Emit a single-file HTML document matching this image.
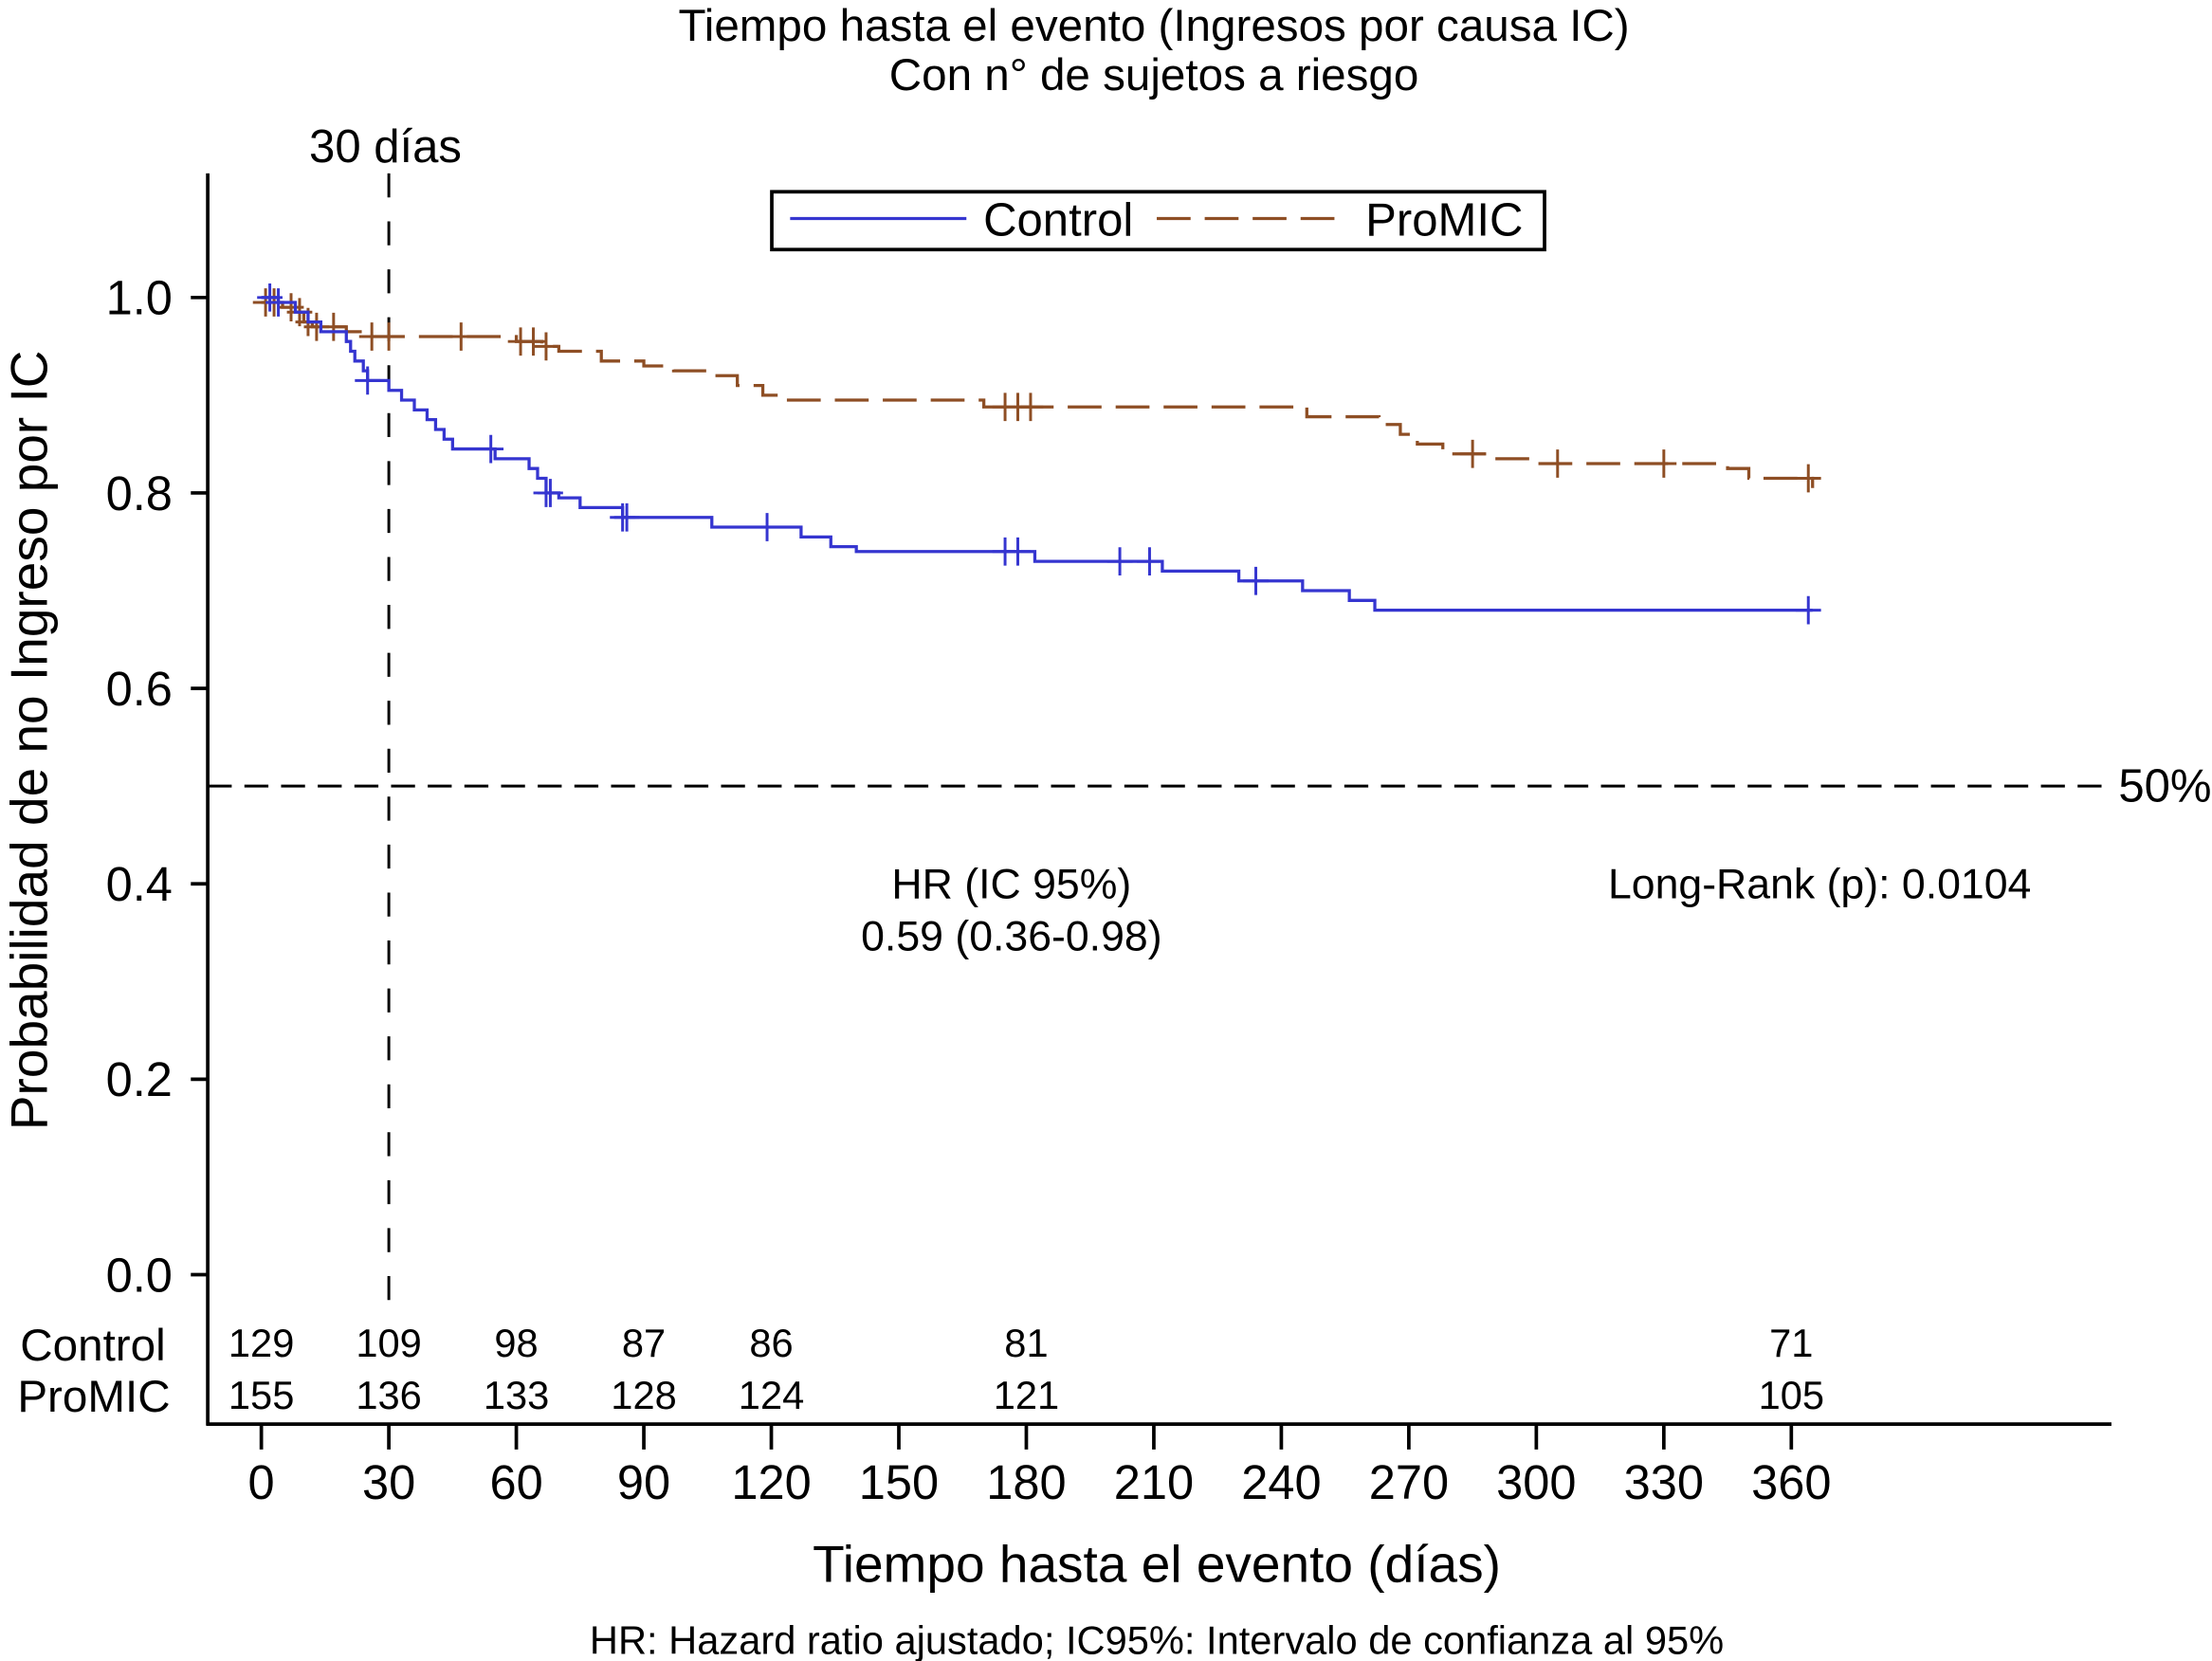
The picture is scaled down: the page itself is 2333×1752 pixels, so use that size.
<!DOCTYPE html>
<html><head><meta charset="utf-8"><style>
html,body{margin:0;padding:0;background:#fff;}
svg{display:block;}
text{font-family:"Liberation Sans",sans-serif;fill:#000;}
</style></head><body>
<svg id="chart" width="2333" height="1752" viewBox="0 0 1568 1178" xmlns="http://www.w3.org/2000/svg">
<text x="818" y="29" font-size="32" text-anchor="middle">Tiempo hasta el evento (Ingresos por causa IC)</text>
<text x="818" y="64" font-size="32" text-anchor="middle">Con n° de sujetos a riesgo</text>
<text x="273" y="115" font-size="33" text-anchor="middle">30 días</text>
<g id="axes"></g>
<g id="series"></g>
<g>
<rect x="547" y="136" width="548" height="41" fill="#fff" stroke="#000" stroke-width="2.5"/>
<line x1="560" y1="155" x2="685" y2="155" stroke="#3535d0" stroke-width="2.2"/>
<text x="697" y="167" font-size="33">Control</text>
<line x1="820" y1="155" x2="955" y2="155" stroke="#8e4e24" stroke-width="2.2" stroke-dasharray="24,10"/>
<text x="968" y="167" font-size="33">ProMIC</text>
</g>
<text x="717" y="637" font-size="30" text-anchor="middle">HR (IC 95%)</text>
<text x="717" y="674" font-size="30" text-anchor="middle">0.59 (0.36-0.98)</text>
<text x="1140" y="637" font-size="30">Long-Rank (p): 0.0104</text>
<text transform="translate(33,525) rotate(-90)" font-size="37" text-anchor="middle">Probabilidad de no Ingreso por IC</text>
<text x="820" y="1122" font-size="37" text-anchor="middle">Tiempo hasta el evento (días)</text>
<text x="820" y="1173" font-size="28" text-anchor="middle">HR: Hazard ratio ajustado; IC95%: Intervalo de confianza al 95%</text>
<text x="14" y="965" font-size="32">Control</text>
<text x="12" y="1001" font-size="32">ProMIC</text>
</svg>
<script>
const xTicks=[0,30,60,90,120,150,180,210,240,270,300,330,360];
const yTicks=[0,0.2,0.4,0.6,0.8,1.0];
const riskTimes=[0,30,60,90,120,180,360];
const riskControl=[129,109,98,87,86,81,71];
const riskProMIC=[155,136,133,128,124,121,105];
const ctrlT=[0,4,8,11,14,20,21,22,24,25,30,33,36,39,41,43,45,55,63,65,67,70,75,85,106,127,134,140,182,212,230,245,256,262,365];
const ctrlS=[1.0,0.995,0.985,0.975,0.965,0.955,0.945,0.935,0.925,0.915,0.905,0.895,0.885,0.875,0.865,0.855,0.845,0.835,0.825,0.815,0.80,0.795,0.785,0.775,0.765,0.755,0.745,0.74,0.73,0.72,0.71,0.70,0.69,0.68,0.68];
const ctrlCens=[2,4,25,54,67,68,85,86,119,175,178,202,209,234,364];
const proT=[0,5,8,10,12,20,26,48,60,66,70,80,90,97,105,112,118,122,170,246,263,268,272,278,290,300,345,350,365];
const proS=[0.995,0.99,0.985,0.975,0.97,0.965,0.96,0.96,0.955,0.95,0.945,0.935,0.93,0.925,0.92,0.91,0.90,0.895,0.888,0.878,0.87,0.86,0.85,0.84,0.835,0.83,0.825,0.815,0.805];
const proCens=[1,3,7,9,11,13,17,26,30,47,61,64,67,175,178,181,285,305,330,364];

const NS="http://www.w3.org/2000/svg";
const X=t=>185+t*(1270-185)/360;
const Y=s=>904-s*(904-211);
function mk(tag,attrs,parent){const e=document.createElementNS(NS,tag);for(const k in attrs)e.setAttribute(k,attrs[k]);parent.appendChild(e);return e;}
const axes=document.getElementById('axes'),series=document.getElementById('series');
let e;
e=mk('line',{x1:147,y1:123,x2:147,y2:1011,stroke:'#000','stroke-width':2.5},axes);


e=mk('line',{x1:146,y1:1010,x2:1497,y2:1010,stroke:'#000','stroke-width':2.5},axes);


yTicks.forEach(v=>{
  e=mk('line',{x1:135,y1:Y(v),x2:147,y2:Y(v),stroke:'#000','stroke-width':2.5},axes);
  
  
  e=mk('text',{x:122,y:Y(v)+12,'font-size':34,'text-anchor':'end'},axes);e.textContent=v.toFixed(1);
  
  
});
xTicks.forEach(v=>{
  e=mk('line',{x1:X(v),y1:1010,x2:X(v),y2:1028,stroke:'#000','stroke-width':2.5},axes);
  
  
  e=mk('text',{x:X(v),y:1063,'font-size':34,'text-anchor':'middle'},axes);e.textContent=v;
  
  
});
riskTimes.forEach((t,i)=>{
  e=mk('text',{x:X(t),y:962,'font-size':28,'text-anchor':'middle'},axes);e.textContent=riskControl[i];
  
  
  e=mk('text',{x:X(t),y:999,'font-size':28,'text-anchor':'middle'},axes);e.textContent=riskProMIC[i];
  
  
});
e=mk('line',{x1:147,y1:Y(0.5),x2:1495,y2:Y(0.5),stroke:'#000','stroke-width':2,'stroke-dasharray':'17,9'},axes);


e=mk('text',{x:1502,y:Y(0.5)+11,'font-size':33},axes);e.textContent='50%';


e=mk('line',{x1:X(30),y1:123,x2:X(30),y2:925,stroke:'#000','stroke-width':2,'stroke-dasharray':'17,17'},axes);



function stepAt(T,S,t){let s=S[0];for(let i=0;i<T.length;i++){if(T[i]<=t)s=S[i];}return s;}
function drawKM(T,S,C,color,dash,name){
  let d='M'+X(T[0])+','+Y(S[0]);
  for(let i=1;i<T.length;i++){d+=' H'+X(T[i])+' V'+Y(S[i]);}
  const p=mk('path',{d:d,fill:'none',stroke:color,'stroke-width':2.2},series);
  if(dash)p.setAttribute('stroke-dasharray',dash);
  
  
  C.forEach(t=>{
    const s=stepAt(T,S,t),cx=X(t),cy=Y(s);
    const g=mk('path',{d:`M${cx-9},${cy} H${cx+9} M${cx},${cy-10} V${cy+10}`,stroke:color,'stroke-width':2,fill:'none'},series);
    
    
  });
}
drawKM(proT,proS,proCens,'#8e4e24','24,10','promic');
drawKM(ctrlT,ctrlS,ctrlCens,'#3535d0',null,'control');
</script>
</body></html>
